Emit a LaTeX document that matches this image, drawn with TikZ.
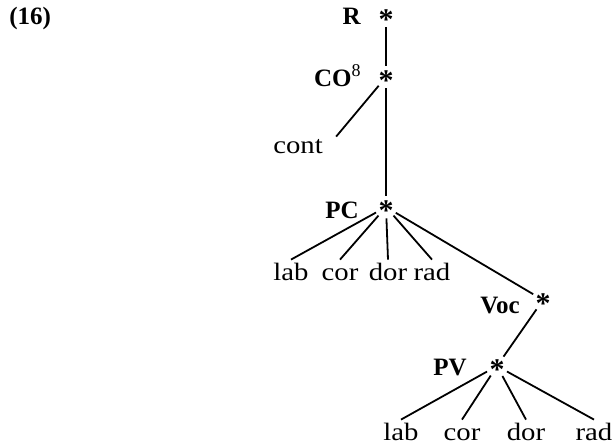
\documentclass[tikz,border=0pt]{standalone}
\usepackage{fontspec}
\setmainfont{Liberation Serif}
\newfontfamily\leaffont[FakeStretch=1.15]{Liberation Serif}
\tikzset{
  cat/.style={font=\fontsize{12.5}{14}\selectfont\bfseries,inner sep=0pt,anchor=base east},
  leaf/.style={font=\fontsize{12.5}{14}\selectfont\leaffont,inner sep=1.5pt,text height=8.5pt,text depth=2.5pt,anchor=base},
  head/.style={circle,inner sep=0pt,minimum size=11pt,text height=0pt,text depth=0pt},
  branch/.style={line width=0.9pt}
}
\newcommand*\headstar{{\fontsize{15}{16}\selectfont\bfseries\raisebox{-0.45em}{*}}}
\newcommand{\fanout}[2]{%
  \foreach \leaf in {#2} {%
    \draw[branch] (#1) -- (\leaf.north);%
  }%
}
\begin{document}
\begin{tikzpicture}[x=0.5pt,y=-0.5pt]
\useasboundingbox (0,0) rectangle (615,444);
\node[cat,anchor=base west] (ex) at (9,25) {(16)};

% heads
\node[head] (r) at (386,16) {\headstar};
\node[head] (co) at (386,77) {\headstar};
\node[head] (pc) at (386,207) {\headstar};
\node[head] (voc) at (543,300) {\headstar};
\node[head] (pv) at (497,366) {\headstar};

\node[cat] (rlab) at (361,25) {R};
\node[cat] (colab) at (361,87) {CO\raisebox{5pt}{\fontsize{9}{10}\selectfont\mdseries 8}};
\node[cat] (pclab) at (359,218) {PC};
\node[cat] (voclab) at (520,313) {Voc};
\node[cat] (pvlab) at (467,375) {PV};

% terminals
\node[leaf] (cont) at (298,153) {cont};
\foreach \name/\x in {lab/291,cor/340,dor/388,rad/432}
  \node[leaf] (pc\name) at (\x,280) {\name};
\foreach \name/\x in {lab/401,cor/462,dor/526,rad/594}
  \node[leaf] (pv\name) at (\x,440) {\name};

% spine
\draw[branch] (r) -- (co);
\draw[branch] (co) -- (pc);
\draw[branch] (co) -- ([shift={(10,4)}]cont.north east);
\draw[branch] (pc) -- (voc);
\draw[branch] (voc) -- (pv);

\fanout{pc}{pclab,pccor,pcdor,pcrad}
\fanout{pv}{pvlab,pvcor,pvdor,pvrad}
\end{tikzpicture}
\end{document}
